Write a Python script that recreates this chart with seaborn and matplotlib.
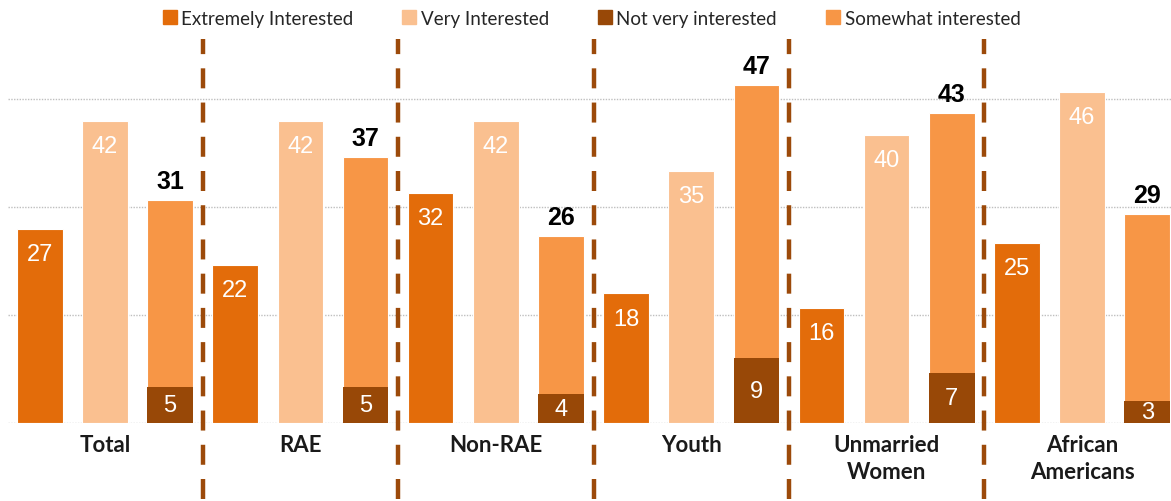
import matplotlib
matplotlib.use("Agg")
import matplotlib.pyplot as plt
import seaborn as sns
import pandas as pd
from matplotlib.lines import Line2D

groups = ["Total", "RAE", "Non-RAE", "Youth", "Unmarried\nWomen", "African\nAmericans"]
extremely = [27, 22, 32, 18, 16, 25]
very = [42, 42, 42, 35, 40, 46]
somewhat = [31, 37, 26, 47, 43, 29]
not_very = [5, 5, 4, 9, 7, 3]

series = ["Extremely Interested", "Very Interested", "Somewhat interested"]
legend_order = ["Extremely Interested", "Very Interested", "Not very interested", "Somewhat interested"]
colors = {"Extremely Interested": "#E36C0A", "Very Interested": "#FAC090",
          "Not very interested": "#984807", "Somewhat interested": "#F79646"}

sns.set_theme(style="white")
plt.rcParams['font.family'] = ['Lato', 'DejaVu Sans']

rows = []
for i, g in enumerate(groups):
    rows.append((g, series[0], extremely[i]))
    rows.append((g, series[1], very[i]))
    rows.append((g, series[2], somewhat[i]))
df = pd.DataFrame(rows, columns=["group", "series", "value"])

rows2 = []
for i, g in enumerate(groups):
    rows2.append((g, series[0], 0))
    rows2.append((g, series[1], 0))
    rows2.append((g, series[2], not_very[i]))
df2 = pd.DataFrame(rows2, columns=["group", "series", "value"])

fig = plt.figure(figsize=(11.71, 5.02), dpi=100)
ax = fig.add_axes([8/1171, 1 - 424/502, 1 - 8/1171, 424/502])

sns.barplot(data=df, x="group", y="value", hue="series", order=groups, hue_order=series,
            palette=[colors[s] for s in series], saturation=1, width=1.0, gap=0.3,
            edgecolor="white", linewidth=0.8, ax=ax, legend=False, zorder=2)
sns.barplot(data=df2, x="group", y="value", hue="series", order=groups, hue_order=series,
            palette=["#ffffff", "#ffffff", colors["Not very interested"]], saturation=1,
            width=1.0, gap=0.3, edgecolor="white", linewidth=0.0, ax=ax, legend=False, zorder=3)

ax.set_ylim(0, 424/7.2)
ax.set_xlim(-0.496, 5.455)
ax.set_yticks([0, 15, 30, 45])
ax.set_yticklabels([])
ax.tick_params(axis="y", length=0)
ax.yaxis.grid(True, color="#BFBFBF", linestyle=(0, (1, 1)), linewidth=1)
ax.set_axisbelow(True)
for s in ax.spines.values():
    s.set_visible(False)
ax.set_xlabel("")
ax.set_ylabel("")
ax.set_xticks(range(len(groups)))
ax.set_xticklabels(groups, fontsize=16, fontweight="bold", color="#1a1a1a", linespacing=1.35)
ax.tick_params(axis="x", length=0, pad=8)

conts = ax.containers
ax.bar_label(conts[0], labels=[str(v) for v in extremely], label_type="edge", padding=-26,
             color="white", fontsize=17, family="Liberation Sans")
ax.bar_label(conts[1], labels=[str(v) for v in very], label_type="edge", padding=-26,
             color="white", fontsize=17, family="Liberation Sans")
ax.bar_label(conts[2], labels=[str(v) for v in somewhat], label_type="edge", padding=5,
             color="black", fontsize=18, fontweight="bold", family="Liberation Sans")
ax.bar_label(conts[5], labels=[str(v) for v in not_very], label_type="center",
             color="white", fontsize=17, family="Liberation Sans")

for i in range(len(groups) - 1):
    ax.axvline(i + 0.5, ymin=-0.18, ymax=0.905, color="#9C4A0A", linewidth=3.2,
               linestyle=(0, (4.5, 3.2)), clip_on=False, zorder=4)

handles = [Line2D([0], [0], marker="s", linestyle="none", markersize=10,
                  markerfacecolor=colors[s], markeredgecolor=colors[s]) for s in legend_order]
fig.legend(handles, legend_order, loc="upper center", bbox_to_anchor=(0.505, 1.012), ncol=4,
           frameon=False, fontsize=13.5, handletextpad=0.2, columnspacing=2.6, handlelength=0.8)

fig.savefig("out.png", dpi=100)
